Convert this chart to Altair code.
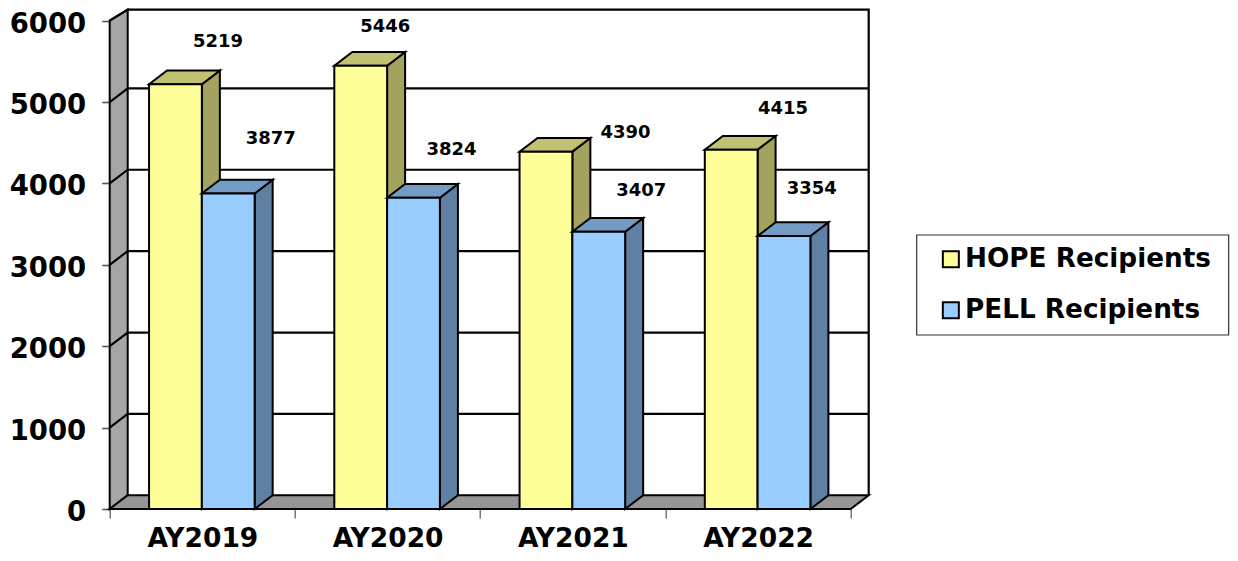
import altair as alt
import pandas as pd

CATEGORIES = ["AY2019", "AY2020", "AY2021", "AY2022"]
SERIES = ["HOPE Recipients", "PELL Recipients"]
HOPE = [5219, 5446, 4390, 4415]
PELL = [3877, 3824, 3407, 3354]
# hand-placed data labels of the original: offset from the bar's top centre
HOPE_LABEL_DX = [0.23, 0.132, 0.43, 0.28]
HOPE_LABEL_DY = [515, 478, 235, 505]
PELL_LABEL_DX = [0.23, 0.205, 0.23, 0.15]
PELL_LABEL_DY = [666, 590, 505, 580]

FRONT = ["#FFFF99", "#99CCFF"]
TOP = ["#C1C172", "#739BC4"]
SIDE = ["#A3A35F", "#5F7FA3"]
WALL = "#A6A6A6"
FLOOR = "#969696"
FONT = "DejaVu Sans"

BAR_START, BAR_W = 0.2125, 0.285
DX, DY = 0.0972, 168
YMAX = 6000
WALL_TOP = 6135

x_scale = alt.Scale(domain=[0, 4 + DX], nice=False, zero=False)
y_scale = alt.Scale(domain=[0, 6155], nice=False, zero=False)
names = "[" + ",".join(f"'{c}'" for c in CATEGORIES) + "]"
x_axis = alt.Axis(
    title=None, grid=False, domain=False,
    values=[0, 0.5, 1, 1.5, 2, 2.5, 3, 3.5, 4],
    labelExpr=f"datum.value % 1 ? {names}[floor(datum.value)] : ''",
    labelFont=FONT, labelFontWeight="bold", labelFontSize=26.5, labelColor="#000000",
    labelPadding=8, labelOverlap=False, labelFlush=False,
    tickSize=9, tickWidth=1.2, tickColor="#555555",
    tickOpacity={"condition": {"test": "datum.value % 1 != 0", "value": 0}, "value": 1},
)
y_axis = alt.Axis(
    title=None, grid=False, domain=False, values=list(range(0, 7000, 1000)), format="d",
    labelFont=FONT, labelFontWeight="bold", labelFontSize=27.5, labelColor="#000000",
    labelPadding=16, labelOffset=3.5, tickSize=8, tickWidth=1.6, tickColor="#555555",
)
X = alt.X("x:Q", scale=x_scale, axis=x_axis)
Y = alt.Y("y:Q", scale=y_scale, axis=y_axis)
STROKE = dict(stroke="#000000", strokeWidth=2)

def poly(rows, fill):
    return alt.Chart(pd.DataFrame(rows, columns=["g", "x", "y", "y2"])).mark_area(
        orient="vertical", fill=fill, strokeJoin="miter", **STROKE
    ).encode(x=X, y=Y, y2="y2:Q", detail="g:N")

# walls and floor
left_wall = poly([(0, 0, 0, YMAX), (0, DX, DY, WALL_TOP)], WALL)
floor = poly([(0, 0, 0, 0), (0, DX, 0, DY), (0, 4, 0, DY), (0, 4 + DX, DY, DY)], FLOOR)

grid_rows = []
for k in range(1000, YMAX, 1000):
    grid_rows += [(k, 0, 0, k), (k, 1, DX, k + DY), (k, 2, 4 + DX, k + DY)]
grid_rows += [(YMAX, 0, 0, YMAX), (YMAX, 1, DX, WALL_TOP), (YMAX, 2, 4 + DX, WALL_TOP), (YMAX, 3, 4 + DX, DY)]
grid = alt.Chart(pd.DataFrame(grid_rows, columns=["g", "o", "x", "y"])).mark_line(
    color="#000000", strokeWidth=2.2, strokeJoin="miter"
).encode(x=X, y=Y, detail="g:N", order="o:Q")

layers = [left_wall, floor, grid]

for s, (name, vals) in enumerate(zip(SERIES, (HOPE, PELL))):
    side_rows, top_rows, front_rows = [], [], []
    for i, v in enumerate(vals):
        L = i + BAR_START + s * BAR_W
        R = L + BAR_W
        side_rows += [(i, R, 0, v), (i, R + DX, DY, v + DY)]
        top_rows += [(i, L, v, v), (i, L + DX, v, v + DY), (i, R, v, v + DY), (i, R + DX, v + DY, v + DY)]
        front_rows.append({"x": L, "x2": R, "y": v, "y2": 0, "series": name})
    layers.append(poly(side_rows, SIDE[s]))
    layers.append(poly(top_rows, TOP[s]))
    layers.append(
        alt.Chart(pd.DataFrame(front_rows)).mark_rect(**STROKE).encode(
            x=X, x2="x2:Q", y=Y, y2="y2:Q",
            color=alt.Color(
                "series:N",
                scale=alt.Scale(domain=SERIES, range=FRONT),
                legend=alt.Legend(
                    title=None, orient="none", legendX=828, legendY=238, padding=0,
                    symbolType="square", symbolSize=256, symbolStrokeColor="#000000",
                    symbolStrokeWidth=2, symbolOpacity=1,
                    labelFont=FONT, labelFontWeight="bold", labelFontSize=26.3,
                    labelColor="#000000", labelLimit=400, labelOffset=1, rowPadding=24,
                ),
            ),
        )
    )

label_rows = []
for s, (vals, ldx, ldy) in enumerate(
    [(HOPE, HOPE_LABEL_DX, HOPE_LABEL_DY), (PELL, PELL_LABEL_DX, PELL_LABEL_DY)]
):
    for i, v in enumerate(vals):
        label_rows.append({
            "x": i + BAR_START + (s + 0.5) * BAR_W + ldx[i],
            "y": v + ldy[i],
            "t": str(v),
        })
layers.append(
    alt.Chart(pd.DataFrame(label_rows)).mark_text(
        font=FONT, fontWeight="bold", fontSize=18, color="#000000", baseline="middle", align="center"
    ).encode(x=X, y=Y, text="t:N")
)

# legend frame
layers.append(
    alt.Chart(pd.DataFrame({"a": [0]})).mark_rect(
        fillOpacity=0, stroke="#333333", strokeWidth=1.2
    ).encode(x=alt.value(807), x2=alt.value(1119), y=alt.value(227), y2=alt.value(327))
)

chart = alt.layer(*layers).properties(
    width=759, height=501,
    autosize=alt.AutoSizeParams(type="none"),
    padding={"left": 101.7, "top": 0, "right": 361, "bottom": 44},
).configure_view(stroke=None)

chart.save("out.html", embed_options={"renderer": "svg", "actions": False})
